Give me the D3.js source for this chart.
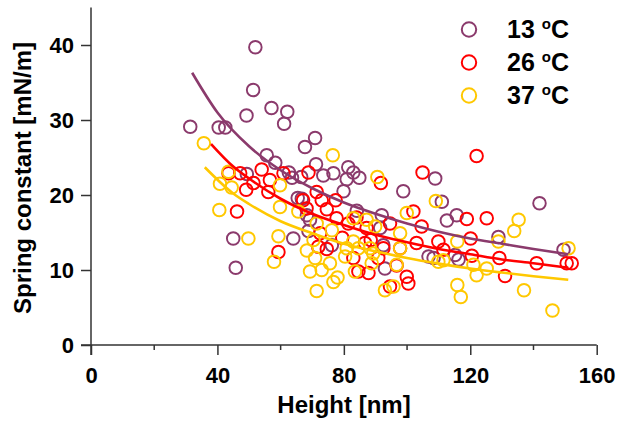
<!DOCTYPE html>
<head>
    <meta charset="utf-8">
    <script src="https://d3js.org/d3.v7.min.js"></script>
    <style>
        body { margin: 0; background: #fff; }
        svg { display: block; font-family: "Liberation Sans", Arial, sans-serif; font-weight: bold; }
    </style>
</head>
<body>
    <script>
        // series labels and colours
        const seriesNames = ["13", "26", "37"];
        const seriesColors = ["#8b3a6c", "#ff0000", "#ffc800"];

        // measured points [height nm, spring constant mN/m]
        const pts13 = [
            [31.4, 29.1], [40.4, 29.0], [42.5, 29.0], [45.0, 14.2], [45.8, 10.3], [49.3, 22.8], [49.2, 30.6],
            [51.3, 34.0], [52.0, 39.7], [55.6, 25.3], [57.1, 31.6], [58.3, 24.3], [61.1, 29.5], [62.1, 31.1],
            [62.6, 23.0], [63.6, 22.3], [64.0, 14.2], [65.4, 19.6], [66.5, 22.4], [66.7, 19.5], [67.7, 26.4],
            [68.3, 17.3], [68.8, 15.2], [69.3, 16.7], [70.9, 27.6], [71.2, 24.1], [73.5, 22.6], [76.2, 13.3],
            [76.7, 22.9], [79.9, 20.5], [80.9, 22.1], [81.4, 23.7], [83.0, 23.0], [84.1, 17.9], [84.9, 22.3],
            [91.5, 15.6], [92.0, 17.3], [92.5, 13.3], [93.0, 10.2], [98.8, 20.5], [106.8, 11.8], [108.4, 11.6],
            [108.9, 22.2], [111.0, 19.1], [112.6, 16.6], [115.2, 12.0], [115.7, 17.3], [116.3, 11.4],
            [128.9, 14.4], [141.9, 18.9], [149.5, 12.7]
        ];
        const pts26 = [
            [43.5, 22.9], [46.2, 17.8], [47.2, 22.9], [49.1, 20.7], [51.4, 21.6], [54.0, 23.4], [56.1, 20.4],
            [56.6, 22.0], [59.3, 12.4], [60.9, 22.9], [67.1, 19.3], [68.2, 18.2], [68.8, 23.0], [71.4, 20.4],
            [71.9, 13.1], [72.5, 14.9], [73.0, 19.3], [74.6, 12.8], [74.6, 18.1], [77.4, 19.3], [77.7, 16.9],
            [79.5, 14.3], [81.4, 16.2], [83.0, 11.6], [84.0, 17.0], [84.6, 9.8], [86.7, 13.6], [87.2, 15.6],
            [87.8, 9.6], [88.5, 14.0], [90.9, 11.6], [91.7, 21.6], [92.5, 12.9], [94.6, 16.2], [94.6, 7.8],
            [96.7, 10.6], [97.8, 12.9], [99.9, 9.1], [100.4, 8.2], [102.0, 17.8], [103.0, 13.6], [104.6, 15.8],
            [104.9, 23.0], [109.9, 13.8], [111.5, 12.7], [118.9, 16.8], [120.1, 14.2], [120.5, 11.9],
            [122.0, 25.2], [125.2, 16.9], [129.2, 11.6], [131.0, 9.2], [141.0, 10.9], [150.5, 10.9], [152.1, 10.9]
        ];
        const pts37 = [
            [35.7, 26.9], [40.6, 18.0], [40.8, 21.5], [43.5, 23.1], [44.5, 21.0], [49.8, 14.2], [57.9, 11.1],
            [59.3, 14.5], [59.8, 21.3], [59.8, 18.4], [65.6, 17.8], [68.3, 12.6], [69.3, 9.8], [70.4, 14.0],
            [70.9, 11.6], [71.4, 16.2], [71.4, 7.2], [73.0, 10.0], [75.6, 10.9], [76.2, 15.3], [76.5, 25.3],
            [76.7, 8.4], [78.0, 9.0], [80.4, 11.8], [80.9, 12.9], [83.0, 13.8], [83.0, 16.9], [83.5, 9.8],
            [84.6, 12.9], [87.2, 16.7], [88.3, 12.9], [88.8, 10.9], [89.3, 12.2], [89.9, 15.8], [90.6, 22.4],
            [93.0, 7.3], [95.7, 7.8], [96.7, 10.7], [97.8, 14.9], [97.8, 12.9], [99.9, 17.6], [109.1, 19.2],
            [109.9, 11.1], [111.5, 11.3], [115.9, 13.8], [115.9, 8.0], [117.0, 6.4], [121.0, 10.7], [122.0, 9.3],
            [125.2, 10.2], [128.9, 13.8], [133.9, 15.2], [135.3, 16.7], [137.0, 7.3], [146.0, 4.6], [151.1, 12.9]
        ];

        // fitted curves
        const fit13 = [[32, 36.3], [40, 31.0], [50, 26.5], [60, 23.3], [70, 20.9], [80, 19.0], [90, 17.5],
            [100, 16.2], [110, 15.1], [120, 14.2], [130, 13.5], [140, 12.8], [151, 12.1]];
        const fit26 = [[38, 26.8], [45, 23.8], [50, 22.2], [60, 19.5], [70, 17.5], [80, 16.0], [90, 14.7],
            [100, 13.7], [110, 12.8], [120, 12.1], [130, 11.4], [140, 10.9], [151, 10.3]];
        const fit37 = [[36, 23.7], [45, 20.2], [50, 18.8], [60, 16.5], [70, 14.9], [80, 13.5], [90, 12.5],
            [100, 11.6], [110, 10.85], [120, 10.2], [130, 9.66], [140, 9.17], [151, 8.7]];

        const xTicks = [0, 40, 80, 120, 160];
        const xMinor = [20, 60, 100, 140];
        const yTicks = [0, 10, 20, 30, 40];

        const W = 619, H = 424;
        const svg = d3.select("body").append("svg").attr("width", W).attr("height", H);

        const x = d3.scaleLinear().domain([0, 160]).range([91, 596.7]),
            y = d3.scaleLinear().domain([0, 45]).range([345, 7.5]);

        const allPts = [pts13, pts26, pts37],
            allFits = [fit13, fit26, fit37];

        // points
        allPts.forEach((pts, i) => {
            svg.append("g")
                .selectAll("circle")
                .data(pts)
                .enter().append("circle")
                .attr("cx", d => x(d[0]))
                .attr("cy", d => y(d[1]))
                .attr("r", 6.3)
                .attr("fill", "none")
                .attr("stroke", seriesColors[i])
                .attr("stroke-width", 1.9);
        });

        // fit lines
        const line = d3.line().x(d => x(d[0])).y(d => y(d[1])).curve(d3.curveMonotoneX);
        allFits.forEach((f, i) => {
            svg.append("path")
                .attr("d", line(f))
                .attr("fill", "none")
                .attr("stroke", seriesColors[i])
                .attr("stroke-width", 2.6);
        });

        // axes
        const gx = svg.append("g").attr("transform", "translate(0,345)");
        gx.call(d3.axisBottom(x).tickValues(xTicks).tickSize(10).tickPadding(12).tickSizeOuter(0));
        gx.selectAll(".tick text").attr("font-size", 22).attr("font-family", "Liberation Sans").attr("font-weight", "bold").attr("fill", "#000");
        gx.append("g").selectAll("line").data(xMinor).enter().append("line")
            .attr("x1", d => x(d)).attr("x2", d => x(d)).attr("y1", 0).attr("y2", 5)
            .attr("stroke", "#333").attr("stroke-width", 1.5);
        gx.select(".domain").attr("d", "M81,0H" + x(160)).attr("stroke", "#333").attr("stroke-width", 1.5);

        const gy = svg.append("g").attr("transform", "translate(91,0)");
        gy.call(d3.axisLeft(y).tickValues(yTicks).tickSize(10).tickPadding(7).tickSizeOuter(0));
        gy.selectAll(".tick text").attr("font-size", 22).attr("font-family", "Liberation Sans").attr("font-weight", "bold").attr("fill", "#000");
        gy.select(".domain").attr("d", "M0," + y(45) + "V355").attr("stroke", "#333").attr("stroke-width", 1.5);
        svg.selectAll(".tick line").attr("stroke", "#333").attr("stroke-width", 1.5);

        // axis titles
        svg.append("text")
            .attr("x", 344).attr("y", 413)
            .attr("text-anchor", "middle")
            .attr("font-size", 24)
            .text("Height [nm]");
        svg.append("text")
            .attr("transform", "translate(31,178) rotate(-90)")
            .attr("text-anchor", "middle")
            .attr("font-size", 24)
            .text("Spring constant [mN/m]");

        // legend
        const lg = svg.append("g");
        seriesNames.forEach((n, i) => {
            const cy = 29.5 + i * 33;
            lg.append("circle").attr("cx", 469).attr("cy", cy).attr("r", 7.2)
                .attr("fill", "none").attr("stroke", seriesColors[i]).attr("stroke-width", 2);
            const t = lg.append("text").attr("x", 507).attr("y", cy + 8.5).attr("font-size", 25);
            t.append("tspan").text(n + " ");
            t.append("tspan").attr("font-size", 15).attr("dy", -9).text("o");
            t.append("tspan").attr("dy", 9).text("C");
        });
    </script>
</body>
